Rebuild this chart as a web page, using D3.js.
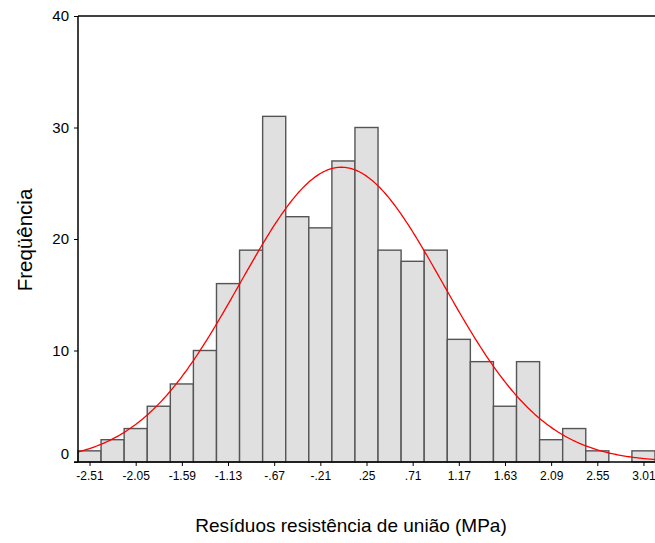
<!DOCTYPE html>
<html><head><meta charset="utf-8">
<script src="https://cdn.jsdelivr.net/npm/d3@7"></script>
<style>body{margin:0;background:#fff}svg{display:block}</style>
</head><body>
<script>
const binCenters = [-2.51,-2.28,-2.05,-1.82,-1.59,-1.36,-1.13,-0.90,-0.67,-0.44,-0.21,0.02,0.25,0.48,0.71,0.94,1.17,1.40,1.63,1.86,2.09,2.32,2.55,2.78,3.01];
const counts = [1,2,3,5,7,10,16,19,31,22,21,27,30,19,18,19,11,9,5,9,2,3,1,0,1];
const xTickValues = [-2.51,-2.05,-1.59,-1.13,-0.67,-0.21,0.25,0.71,1.17,1.63,2.09,2.55,3.01];
const xTickLabels = ["-2.51","-2.05","-1.59","-1.13","-.67","-.21",".25",".71","1.17","1.63","2.09","2.55","3.01"];
const yTicks = [0,10,20,30,40];
const binWidth = 0.23;
const fitMean = 0.0;
const fitSD = 1.01;
const xTitle = "Resíduos resistência de união (MPa)";
const yTitle = "Freqüência";

(function(){
const W = 655, H = 543;
const mL = 78, mR = 655, mT = 16, mB = 462;
const FONT = "Arial, 'Liberation Sans', sans-serif";
const svg = d3.select("body").append("svg").attr("width", W).attr("height", H);

const x = d3.scaleLinear().domain([binCenters[0]-binWidth/2, binCenters[binCenters.length-1]+binWidth/2]).range([mL, mR]);
const y = d3.scaleLinear().domain([0, 40]).range([mB, mT]);

// bars
svg.append("g").selectAll("rect").data(binCenters).join("rect")
  .attr("x", (d) => x(d - binWidth/2))
  .attr("width", (d) => x(d + binWidth/2) - x(d - binWidth/2))
  .attr("y", (d,i) => y(counts[i]))
  .attr("height", (d,i) => y(0) - y(counts[i]))
  .attr("fill", "#e0e0e0")
  .attr("stroke", "#555")
  .attr("stroke-width", 1.4);

// normal curve
const N = d3.sum(counts);
const scaleFactor = N * binWidth;
const pts = d3.range(0, 401).map(k => {
  const v = x.domain()[0] + (x.domain()[1] - x.domain()[0]) * k / 400;
  const z = (v - fitMean) / fitSD;
  return [v, scaleFactor * Math.exp(-z*z/2) / (fitSD * Math.sqrt(2*Math.PI))];
});
svg.append("path").datum(pts)
  .attr("d", d3.line().x(d => x(d[0])).y(d => y(d[1])))
  .attr("fill", "none").attr("stroke", "#ff0000").attr("stroke-width", 1.3);

// y axis
const yAxis = svg.append("g").attr("transform", `translate(${mL},0)`)
  .call(d3.axisLeft(y).tickValues(yTicks).tickSize(4).tickPadding(5).tickFormat(d3.format("d")));
yAxis.select(".domain").attr("stroke", "#000").attr("stroke-width", 1.5).attr("d", `M0,${mT}V${mB}`);
yAxis.selectAll(".tick line").attr("stroke", "#000");
yAxis.selectAll("text").attr("font-family", FONT).attr("font-size", 15).attr("fill", "#000");
yAxis.selectAll(".tick").filter(d => d === 0).select("text").attr("dy", "-0.22em");

// x axis
const xAxis = svg.append("g").attr("transform", `translate(0,${mB})`)
  .call(d3.axisBottom(x).tickValues(xTickValues).tickSize(4).tickPadding(5).tickFormat((d,i) => xTickLabels[i]));
xAxis.select(".domain").attr("stroke", "#000").attr("stroke-width", 1.5).attr("d", `M${mL-4},0H${W}`);
xAxis.selectAll(".tick line").attr("stroke", "#000");
xAxis.selectAll("text").attr("font-family", FONT).attr("font-size", 12).attr("fill", "#000");

// top border
svg.append("line").attr("x1", mL).attr("x2", W).attr("y1", mT).attr("y2", mT)
  .attr("stroke", "#000").attr("stroke-width", 1.5);

// titles
svg.append("text").attr("x", 351).attr("y", 532).attr("text-anchor", "middle")
  .attr("font-family", FONT).attr("font-size", 19).attr("fill", "#000").text(xTitle);
svg.append("text").attr("transform", "translate(32,240) rotate(-90)").attr("text-anchor", "middle")
  .attr("font-family", FONT).attr("font-size", 20.5).attr("fill", "#000").text(yTitle);
})();
</script>
</body></html>
